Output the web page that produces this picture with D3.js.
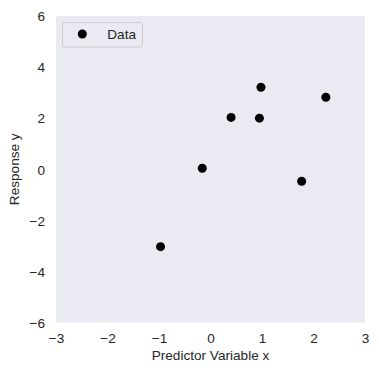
<!DOCTYPE html>
<html>
<head>
<meta charset="utf-8">
<script src="https://cdn.jsdelivr.net/npm/d3@7"></script>
<style>
  html, body { margin: 0; padding: 0; background: #ffffff; }
  svg { display: block; }
  text { font-family: "Liberation Sans", Arial, sans-serif; fill: #262626; }
</style>
</head>
<body>
<svg id="chart" width="379" height="376"></svg>
<script>
// Data
const xValues = [-0.97, -0.16, 0.40, 0.95, 0.98, 1.77, 2.24];
const yValues = [-3.03, 0.04, 2.03, 2.00, 3.21, -0.47, 2.82];
const xTicks = [-3, -2, -1, 0, 1, 2, 3];
const yTicks = [-6, -4, -2, 0, 2, 4, 6];
const xDomain = [-3, 3];
const yDomain = [-6, 6];
const seriesName = "Data";
const xLabel = "Predictor Variable x";
const yLabel = "Response y";

const svg = d3.select("#chart");
const margin = { left: 56, top: 16, right: 14, bottom: 53.5 };
const W = 379, H = 376;
const pw = W - margin.left - margin.right;
const ph = H - margin.top - margin.bottom;

const x = d3.scaleLinear().domain(xDomain).range([margin.left, margin.left + pw]);
const y = d3.scaleLinear().domain(yDomain).range([margin.top + ph, margin.top]);

// Plot background
svg.append("rect")
  .attr("x", margin.left).attr("y", margin.top)
  .attr("width", pw).attr("height", ph)
  .attr("fill", "#eaeaf2");

const fs = 13.6;

// X axis
const xAxis = svg.append("g")
  .attr("transform", `translate(0,${margin.top + ph})`)
  .call(d3.axisBottom(x).tickValues(xTicks).tickSize(0).tickPadding(0)
    .tickFormat(d => d3.format("")(d).replace("-", "\u2212")));
xAxis.select(".domain").remove();
xAxis.selectAll("text")
  .attr("dy", null)
  .attr("y", 20.5)
  .style("font-size", fs + "px")
  .style("font-family", '"Liberation Sans", Arial, sans-serif')
  .attr("fill", "#262626");

// Y axis
const yAxis = svg.append("g")
  .attr("transform", `translate(${margin.left},0)`)
  .call(d3.axisLeft(y).tickValues(yTicks).tickSize(0).tickPadding(0)
    .tickFormat(d => d3.format("")(d).replace("-", "\u2212")));
yAxis.select(".domain").remove();
yAxis.selectAll("text")
  .attr("x", -11)
  .attr("dy", "0.35em")
  .style("font-size", fs + "px")
  .style("font-family", '"Liberation Sans", Arial, sans-serif')
  .attr("fill", "#262626");

// Axis labels
svg.append("text")
  .attr("x", margin.left + pw / 2)
  .attr("y", 360)
  .attr("text-anchor", "middle")
  .style("font-size", fs + "px")
  .text(xLabel);

svg.append("text")
  .attr("transform", `translate(19,${margin.top + ph / 2}) rotate(-90)`)
  .attr("text-anchor", "middle")
  .style("font-size", fs + "px")
  .text(yLabel);

// Points
const pts = xValues.map((v, i) => ({ x: v, y: yValues[i] }));
svg.append("g")
  .selectAll("circle")
  .data(pts)
  .enter()
  .append("circle")
  .attr("cx", d => x(d.x))
  .attr("cy", d => y(d.y))
  .attr("r", 4.5)
  .attr("fill", "#000000");

// Legend
const lg = svg.append("g");
lg.append("rect")
  .attr("x", 62.5).attr("y", 22.5)
  .attr("width", 80).attr("height", 24.5)
  .attr("rx", 2.5).attr("ry", 2.5)
  .attr("fill", "#eaeaf2")
  .attr("stroke", "#cccccc")
  .attr("stroke-width", 1);
lg.append("circle")
  .attr("cx", 82.3).attr("cy", 34)
  .attr("r", 4.5)
  .attr("fill", "#000000");
lg.append("text")
  .attr("x", 107.3).attr("y", 38.8)
  .style("font-size", fs + "px")
  .text(seriesName);
</script>
</body>
</html>
